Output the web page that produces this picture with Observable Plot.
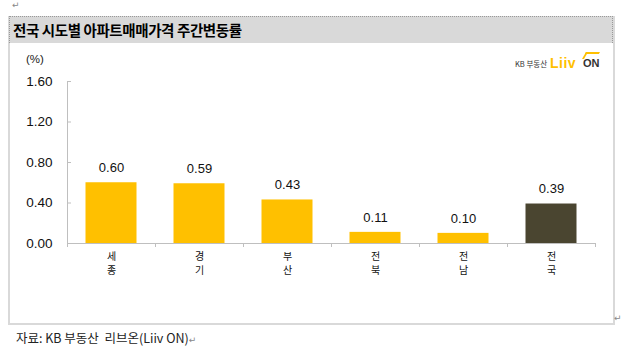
<!DOCTYPE html>
<html>
<head>
<meta charset="utf-8">
<script src="https://cdn.jsdelivr.net/npm/d3@7"></script>
<script src="https://cdn.jsdelivr.net/npm/@observablehq/plot@0.6"></script>
<style>
  html, body { margin: 0; padding: 0; background: #fff; }
  #c { position: relative; width: 627px; height: 353px; overflow: hidden; background: #fff;
       font-family: "Liberation Sans", "Noto Sans CJK KR", sans-serif; color: #000; }
  .abs { position: absolute; white-space: nowrap; }
  #frame { left: 8px; top: 16px; width: 603px; height: 305px; border: 2px solid #d9d9d9; }
  #titlebar { left: 9px; top: 16px; width: 604px; height: 27px; background: #d9d9d9;
              border-top: 1px dotted #999; border-left: 1px dotted #999; border-right: 1px dotted #999; box-sizing: border-box; }
  #title { left: 13px; top: 19px; font-family: "Noto Sans CJK KR", sans-serif; font-weight: bold; font-size: 14.5px; letter-spacing: -0.4px; color: #000; }
  #unit { left: 26px; top: 53px; font-size: 11.5px; color: #222; }
  #caption { left: 16px; top: 328px; font-family: "Noto Sans CJK KR", sans-serif; font-size: 12.5px; color: #222; }
  .ret { font-family: "DejaVu Sans", sans-serif; font-size: 9px; color: #888; }
  #logo1 { left: 515px; top: 58px; font-family: "Noto Sans CJK KR", sans-serif; font-size: 7.5px; color: #333; }
  #logo2 { left: 550px; top: 55px; font-family: "Liberation Sans", sans-serif; font-weight: bold; font-size: 14px; color: #FFC000; letter-spacing: 0.5px; }
  #logo3 { left: 583px; top: 57px; font-family: "Liberation Sans", sans-serif; font-weight: bold; font-size: 11px; color: #333; }
  #roof { left: 584px; top: 52px; width: 12px; height: 5px; border-top: 2px solid #FFC000; border-left: 2px solid #FFC000; transform: skewX(-30deg); }
  #plot { position: absolute; left: 0; top: 0; }
</style>
</head>
<body>
<div id="c">
  <div class="abs ret" style="left:12px; top:0px;">↵</div>
  <div class="abs" id="frame"></div>
  <div class="abs" id="titlebar"></div>
  <div class="abs" id="title">전국 시도별 아파트매매가격 주간변동률</div>
  <div class="abs" id="unit">(%)</div>
  <div class="abs" id="logo1">KB 부동산</div>
  <div class="abs" id="logo2">Liiv</div>
  <div class="abs" id="roof"></div>
  <div class="abs" id="logo3">ON</div>
  <div class="abs ret" style="left:614px; top:313px;">↵</div>
  <div class="abs" id="caption">자료: KB 부동산&nbsp; 리브온(Liiv ON)<span class="ret">↵</span></div>
  <div id="plot"></div>
</div>
<script>
const categories = ["세종", "경기", "부산", "전북", "전남", "전국"];
const values = [0.60, 0.59, 0.43, 0.11, 0.10, 0.39];
const highlight = ["전국"];
const yTicks = [0, 0.4, 0.8, 1.2, 1.6];

const data = categories.map((c, i) => ({category: c, i, value: values[i], hl: highlight.includes(c)}));
const gray = "#bfbfbf";

const chart = Plot.plot({
  width: 627,
  height: 353,
  marginLeft: 67,
  marginRight: 32,
  marginTop: 81,
  marginBottom: 110,
  style: {background: "transparent", fontFamily: "'Liberation Sans', 'Noto Sans CJK KR', sans-serif", overflow: "visible"},
  x: {type: "linear", domain: [0, categories.length], axis: null},
  y: {domain: [0, 1.6], axis: null},
  marks: [
    Plot.rectY(data, {x1: d => d.i, x2: d => d.i + 1, y: "value", insetLeft: 18.5, insetRight: 18.5,
      fill: d => d.hl ? "#4a4530" : "#FFC000"}),
    Plot.ruleX([0], {stroke: gray}),
    Plot.ruleY([0], {stroke: gray}),
    Plot.axisX({ticks: d3.range(categories.length + 1), tickFormat: () => "", tickSize: 4, stroke: gray, label: null}),
    Plot.axisY({ticks: yTicks, tickFormat: () => "", tickSize: 4, dx: 4, stroke: gray, label: null}),
    Plot.axisY({ticks: yTicks, tickFormat: d => d.toFixed(2), tickSize: 0, tickPadding: 15, fontSize: 13.5, fill: "#111", label: null}),
    Plot.text(data, {x: d => d.i + 0.5, y: "value", text: d => d.value.toFixed(2), dy: -15, fontSize: 13, fill: "#111"}),
    Plot.text(data, {x: d => d.i + 0.5, y: () => 0, text: d => Array.from(d.category).join("\n"),
      lineAnchor: "top", dy: 6, fontSize: 10, lineHeight: 1.46, fill: "#111", fontFamily: "Noto Sans CJK KR"})
  ]
});
document.getElementById("plot").appendChild(chart);
</script>
</body>
</html>
